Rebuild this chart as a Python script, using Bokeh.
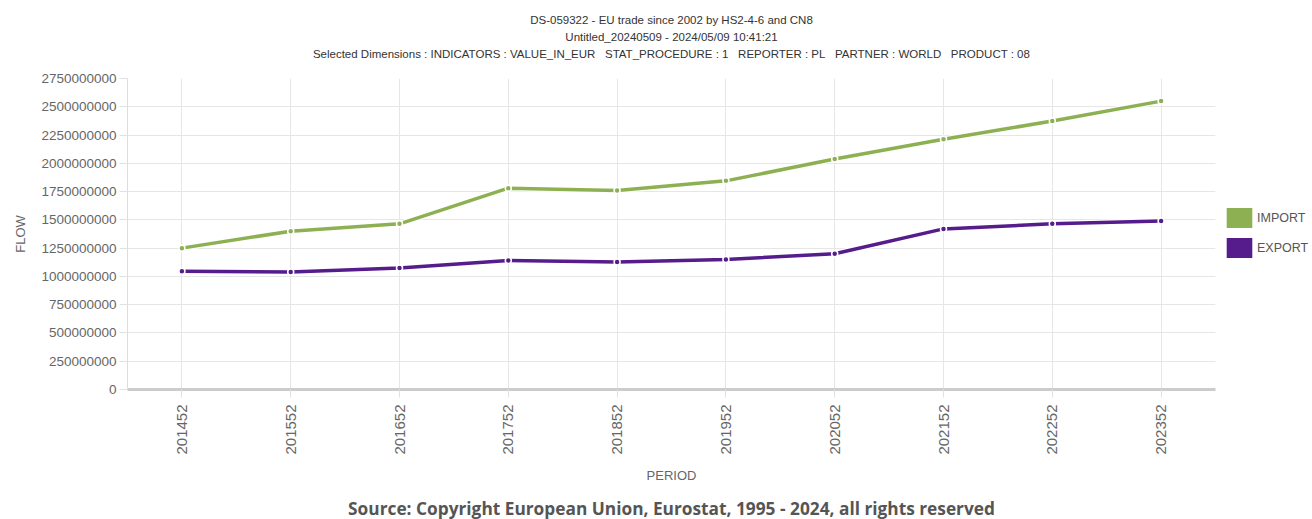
from bokeh.plotting import figure
from bokeh.layouts import row
from bokeh.models import (Range1d, FactorRange, FixedTicker, NumeralTickFormatter,
                          Title, Legend, LegendItem, ColumnDataSource)
from bokeh.embed import file_html
from bokeh.resources import INLINE
import math

# ---- data ----
periods = ["201452", "201552", "201652", "201752", "201852",
           "201952", "202052", "202152", "202252", "202352"]
import_vals = [1250e6, 1400e6, 1465e6, 1780e6, 1760e6,
               1845e6, 2038e6, 2212e6, 2374e6, 2550e6]
export_vals = [1045e6, 1040e6, 1075e6, 1140e6, 1128e6,
               1150e6, 1200e6, 1420e6, 1465e6, 1490e6]
y_ticks = list(range(0, 2750000001, 250000000))
series_names = ["IMPORT", "EXPORT"]

NB = "\u00a0\u00a0 "
title_lines = [
    "DS-059322 - EU trade since 2002 by HS2-4-6 and CN8",
    "Untitled_20240509 - 2024/05/09 10:41:21",
    "Selected Dimensions : INDICATORS : VALUE_IN_EUR" + NB + "STAT_PROCEDURE : 1" + NB
    + "REPORTER : PL" + NB + "PARTNER : WORLD" + NB + "PRODUCT : 08",
]
source_text = "Source: Copyright European Union, Eurostat, 1995 - 2024, all rights reserved"

GREEN = "#8db052"
PURPLE = "#561c8c"
SANS = "Liberation Sans, Arial, sans-serif"
H = 519
TOP, BOTTOM = 78, 389

src = ColumnDataSource(dict(period=periods, imp=import_vals, exp=export_vals,
                            nothing=[float("nan")] * len(periods)))

p = figure(width=1219, height=H, output_backend="svg", toolbar_location=None,
           x_range=FactorRange(*periods, range_padding=0),
           y_range=Range1d(0, 2750000000),
           min_border_left=127, min_border_right=4,
           min_border_top=TOP, min_border_bottom=H - BOTTOM)
p.outline_line_color = None
p.background_fill_color = "white"
p.border_fill_color = "white"

# grid
p.xgrid.grid_line_color = "#e6e6e6"
p.ygrid.grid_line_color = "#e6e6e6"
p.yaxis.ticker = FixedTicker(ticks=y_ticks)
p.yaxis.formatter = NumeralTickFormatter(format="0")

# axes styling
p.yaxis.axis_line_color = "#dddddd"
p.yaxis.major_tick_line_color = "#e0e0e0"
p.yaxis.major_tick_out = 8
p.yaxis.major_tick_in = 0
p.yaxis.minor_tick_line_color = None
p.yaxis.major_label_standoff = 3
p.yaxis.major_label_text_font = SANS
p.yaxis.major_label_text_font_size = "13.5px"
p.yaxis.major_label_text_color = "#666666"
p.yaxis.axis_label = "FLOW"
p.yaxis.axis_label_text_font = SANS
p.yaxis.axis_label_text_font_size = "13px"
p.yaxis.axis_label_text_font_style = "normal"
p.yaxis.axis_label_text_color = "#666666"
p.yaxis.axis_label_standoff = 10

p.xaxis.axis_line_color = "#cccccc"
p.xaxis.axis_line_width = 3
p.xaxis.major_tick_line_color = "#e0e0e0"
p.xaxis.major_tick_out = 8
p.xaxis.major_tick_in = 0
p.xaxis.major_label_orientation = math.pi / 2
p.xaxis.major_label_standoff = 7
p.xaxis.major_label_text_font = SANS
p.xaxis.major_label_text_font_size = "15px"
p.xaxis.major_label_text_color = "#666666"
p.xaxis.axis_label = "PERIOD"
p.xaxis.axis_label_text_font = SANS
p.xaxis.axis_label_text_font_size = "13px"
p.xaxis.axis_label_text_font_style = "normal"
p.xaxis.axis_label_text_color = "#666666"
p.xaxis.axis_label_standoff = 10

# lines with white halo
for col, color in (("imp", GREEN), ("exp", PURPLE)):
    p.line("period", col, source=src, line_color="white", line_width=6, line_alpha=0.8)
    p.line("period", col, source=src, line_color=color, line_width=3.5)
    p.scatter("period", col, source=src, size=6, fill_color=color,
              line_color="white", line_width=1.5)


def ttl(text, size="11.5px", standoff=0, font=SANS, style="normal", color="#333333", offset=-7):
    t = Title(text=text, align="center", standoff=standoff,
              text_font=font, text_font_size=size,
              text_font_style=style, text_color=color)
    t.offset = offset
    return t


# titles: p.title is outermost; added titles stack outward from the frame
p.title.text = title_lines[0]
p.title.align = "center"
p.title.offset = -7
p.title.standoff = 0
p.title.text_font = SANS
p.title.text_font_size = "11.5px"
p.title.text_font_style = "normal"
p.title.text_color = "#333333"
p.add_layout(ttl(" ", size="1px", standoff=16), "above")          # spacer
p.add_layout(ttl(title_lines[2], offset=-16), "above")
p.add_layout(ttl(title_lines[1], standoff=6, offset=-3), "above")

p.add_layout(ttl(" ", size="1px", standoff=6, offset=0), "below")   # spacer
p.add_layout(ttl(source_text, size="17.3px", font="Open Sans", style="bold",
                 color="#555555", offset=-10), "below")

# ---- legend panel ----
lg = figure(width=89, height=H, output_backend="svg", toolbar_location=None,
            x_range=FactorRange(*periods), y_range=Range1d(1, 2),
            min_border_left=0, min_border_right=0, min_border_top=0, min_border_bottom=0)
lg.axis.visible = False
lg.grid.visible = False
lg.outline_line_color = None
lg.border_fill_color = "white"
r_imp = lg.vbar(x="period", top="nothing", width=0.5, source=src,
                fill_color=GREEN, line_color=None)
r_exp = lg.vbar(x="period", top="nothing", width=0.5, source=src,
                fill_color=PURPLE, line_color=None)
legend = Legend(items=[LegendItem(label=series_names[0], renderers=[r_imp]),
                       LegendItem(label=series_names[1], renderers=[r_exp])],
                location=(4, BOTTOM - 260), orientation="vertical",
                glyph_width=32, glyph_height=25, spacing=5, padding=0,
                margin=0, label_standoff=2, border_line_color=None,
                background_fill_alpha=0,
                label_text_font=SANS, label_text_font_size="12.5px",
                label_text_color="#555555", label_height=25)
lg.add_layout(legend, "center")

layout = row(p, lg)
open("out.html", "w").write(file_html(layout, INLINE))
